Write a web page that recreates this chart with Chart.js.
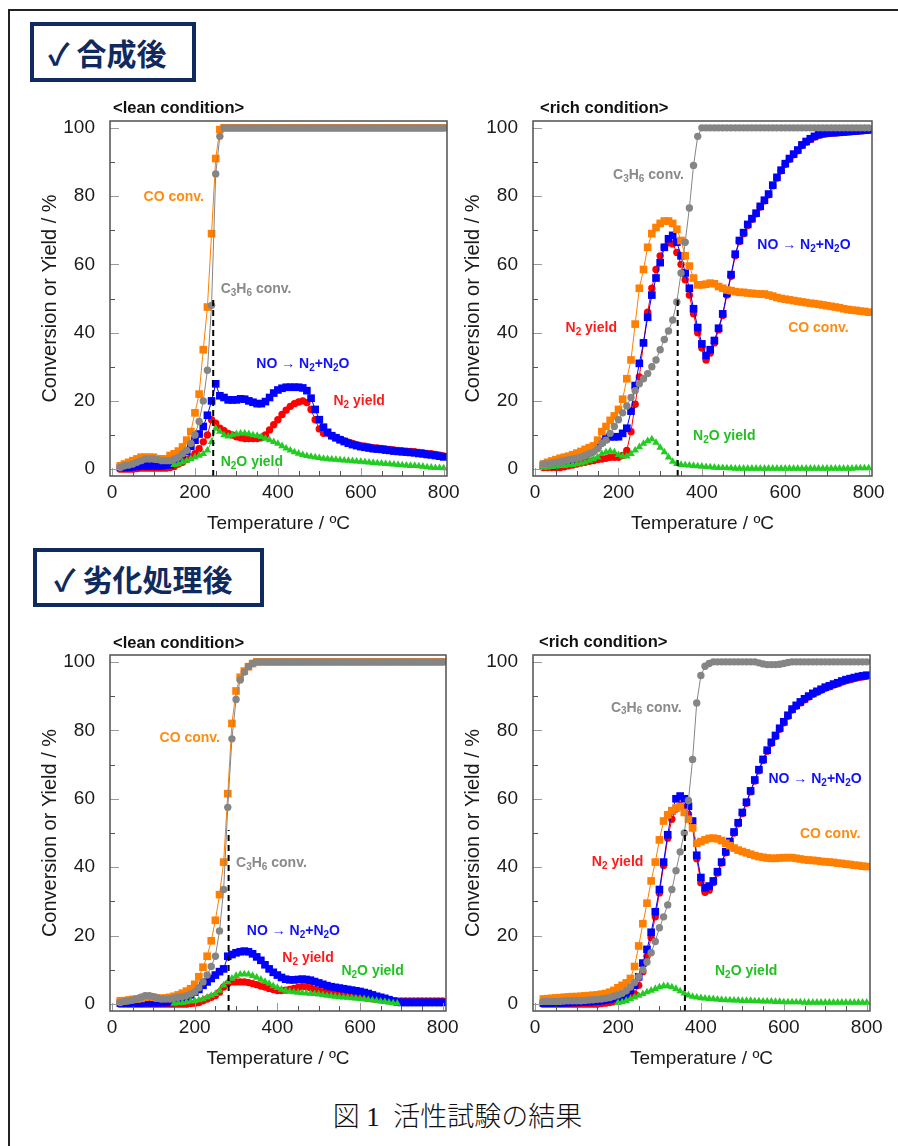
<!DOCTYPE html>
<html lang="ja">
<head>
<meta charset="utf-8">
<title>活性試験の結果</title>
<script src="https://cdn.jsdelivr.net/npm/chart.js@4.4.1/dist/chart.umd.min.js"></script>
<style>
  html, body { margin: 0; padding: 0; background: #fff; }
  body { width: 898px; height: 1146px; position: relative; overflow: hidden; font-family: "Liberation Sans", Arial, sans-serif; }
  .frame { position: absolute; left: 8px; top: 9px; width: 1000px; height: 1300px; border-top: 2px solid #222; border-left: 2px solid #222; }
  .head { position: absolute; box-sizing: border-box; border: 4px solid #0e2a5f; color: #0e2a5f; font-family: "Noto Sans CJK JP", "DejaVu Sans", sans-serif; font-weight: 700; font-size: 30px; display: flex; align-items: center; white-space: pre; }
  .cond { position: absolute; font-weight: bold; font-size: 16.5px; line-height: 20px; color: #111; white-space: pre; }
  .caption { position: absolute; left: 0; width: 915px; top: 1100px; text-align: center; font-family: "Liberation Serif", "Noto Sans CJK JP", serif; font-weight: 300; font-size: 27px; line-height: 34px; white-space: pre; color: #111; }
  canvas { position: absolute; }
</style>
</head>
<body>
<div class="frame"></div>
<div class="head" style="left:30px; top:22px; width:166px; height:60px; padding-left:14px;">✓ 合成後</div>
<div class="head" style="left:33px; top:548px; width:231px; height:59px; padding-left:17px;">✓ 劣化処理後</div>

<canvas id="freshLean"></canvas>
<canvas id="freshRich"></canvas>
<canvas id="agedLean"></canvas>
<canvas id="agedRich"></canvas>

<div class="cond" style="left:113px; top:97px;">&lt;lean condition&gt;</div>
<div class="cond" style="left:540px; top:97px;">&lt;rich condition&gt;</div>
<div class="cond" style="left:113px; top:632px;">&lt;lean condition&gt;</div>
<div class="cond" style="left:539px; top:631px;">&lt;rich condition&gt;</div>

<div class="caption">図 1  活性試験の結果</div>

<script>
// temperature points (ºC), shared by all panels
const temps = [
  20, 30, 40, 50, 60, 70, 80, 90, 100, 110,
  120, 130, 140, 150, 160, 170, 180, 190, 200, 210,
  220, 230, 240, 250, 260, 270, 280, 290, 300, 310,
  320, 330, 340, 350, 360, 370, 380, 390, 400, 410,
  420, 430, 440, 450, 460, 470, 480, 490, 500, 510,
  520, 530, 540, 550, 560, 570, 580, 590, 600, 610,
  620, 630, 640, 650, 660, 670, 680, 690, 700, 710,
  720, 730, 740, 750, 760, 770, 780, 790, 800
];
const xTicks = [0, 200, 400, 600, 800];
const yTicks = [0, 20, 40, 60, 80, 100];

// ---- 合成後 / lean ----
const freshLeanCO = [
  1, 1.5, 2, 2.5, 3, 3.5, 3.5, 3.5, 3.5, 3,
  3, 3, 4, 4.5, 5.3, 6.5, 8.5, 11, 16.5, 22,
  35, 47.5, 69, 91, 99.5, 100, 100, 100, 100, 100,
  100, 100, 100, 100, 100, 100, 100, 100, 100, 100,
  100, 100, 100, 100, 100, 100, 100, 100, 100, 100,
  100, 100, 100, 100, 100, 100, 100, 100, 100, 100,
  100, 100, 100, 100, 100, 100, 100, 100, 100, 100,
  100, 100, 100, 100, 100, 100, 100, 100, 100
];
const freshLeanC3H6 = [
  0.5, 1, 1.2, 1.5, 2, 2.5, 3, 3, 3, 2.8,
  2.5, 2.5, 2.5, 3, 3.5, 4.5, 5.5, 7.5, 10, 14,
  20, 29, 48, 86.5, 97.5, 100, 100, 100, 100, 100,
  100, 100, 100, 100, 100, 100, 100, 100, 100, 100,
  100, 100, 100, 100, 100, 100, 100, 100, 100, 100,
  100, 100, 100, 100, 100, 100, 100, 100, 100, 100,
  100, 100, 100, 100, 100, 100, 100, 100, 100, 100,
  100, 100, 100, 100, 100, 100, 100, 100, 100
];
const freshLeanNO = [
  0.5, 0.5, 0.5, 0.7, 0.8, 1, 1, 1, 1, 1,
  1, 1.2, 1.3, 1.8, 3, 4.3, 5.3, 6.7, 8.5, 10.3,
  12.5, 15.8, 20, 25, 21.5, 21, 20.3, 20.3, 20.3, 20.6,
  20.5, 20, 19.6, 19.2, 19.2, 19.8, 21, 22.3, 23.2, 23.7,
  24, 24, 24, 24, 23.8, 23, 20.8, 17.5, 14.5, 12.3,
  10.8, 9.8, 9.2, 8.6, 8.1, 7.6, 7.2, 6.9, 6.6, 6.4,
  6.2, 6, 5.9, 5.8, 5.6, 5.5, 5.3, 5.2, 5.1, 5,
  4.9, 4.8, 4.6, 4.5, 4.3, 4.2, 4, 3.8, 3.6
];
const freshLeanN2 = [
  0, 0, 0, 0, 0.2, 0.3, 0.3, 0.3, 0.3, 0.3,
  0.3, 0.3, 0.5, 0.8, 1.5, 2, 2.8, 3.5, 4.5, 6,
  8, 10, 14.5, 13.5, 12, 11.3, 10.5, 10, 9.5, 9.2,
  9, 9, 9, 9, 9.2, 10, 11.5, 13, 14.5, 16,
  17.3, 18.4, 19.2, 19.7, 20, 19.5, 17.5, 14.5, 11.8, 10.5,
  10.5, 9.8, 9.3, 8.8, 8.3, 7.9, 7.5, 7.2, 6.9, 6.7,
  6.5, 6.3, 6.2, 6.1, 5.9, 5.8, 5.6, 5.5, 5.4, 5.3,
  5.2, 5.1, 4.9, 4.8, 4.6, 4.5, 4.3, 4.1, 3.9
];
const freshLeanN2O = [
  null, null, null, null, null, null, null, null, null, null,
  null, null, null, 1.3, 1.5, 2, 2.5, 3, 3.5, 4,
  4.5, 5.5, 8, 12, 11, 10, 9.6, 10, 10.3, 10.5,
  10.5, 10.3, 10, 9.8, 9.5, 9, 8.5, 8, 7.5, 6.8,
  6.1, 5.5, 5, 4.6, 4.2, 3.9, 3.7, 3.5, 3.3, 3.1,
  3, 2.9, 2.8, 2.7, 2.6, 2.5, 2.4, 2.3, 2.2, 2.1,
  2, 1.9, 1.8, 1.7, 1.6, 1.5, 1.4, 1.3, 1.2, 1.1,
  1, 1, 0.9, 0.8, 0.6, 0.5, 0.4, 0.4, 0.3
];
const freshLeanT50 = [244, 50.4];

// ---- 合成後 / rich ----
const freshRichCO = [
  1.5, 2, 2.4, 2.8, 3.2, 3.5, 3.8, 4.2, 4.7, 5.2,
  5.8, 6.3, 6.8, 8.5, 11, 12.5, 14.3, 15.6, 17.5, 20.5,
  26.5, 32, 42.5, 53, 58.5, 65, 69, 70.8, 72, 72.7,
  72.7, 72, 70.3, 67, 62.5, 59.5, 56, 54, 54, 54.2,
  54.5, 54.3, 53.5, 53, 52.5, 52.3, 52, 51.8, 51.8, 51.6,
  51.5, 51.4, 51.3, 51.3, 51, 50.7, 50.3, 50, 49.8, 49.6,
  49.4, 49.2, 49, 48.8, 48.6, 48.5, 48.3, 48.1, 47.9, 47.7,
  47.5, 47.3, 47, 46.8, 46.6, 46.5, 46.3, 46.2, 46
];
const freshRichC3H6 = [
  1.5, 1.5, 1.8, 2, 2.2, 2.5, 2.8, 3, 3.2, 3.5,
  4, 4.5, 5, 6, 7.5, 8.5, 10.5, 12.5, 14.5, 16.5,
  18.5, 21, 23, 25, 26.5, 28, 30, 32, 35, 38,
  40.5, 43.7, 49, 57.5, 66.5, 76.5, 89, 97.5, 100, 100,
  100, 100, 100, 100, 100, 100, 100, 100, 100, 100,
  100, 100, 100, 100, 100, 100, 100, 100, 100, 100,
  100, 100, 100, 100, 100, 100, 100, 100, 100, 100,
  100, 100, 100, 100, 100, 100, 100, 100, 100
];
const freshRichNO = [
  1, 1, 1, 1.2, 1.5, 2, 2.5, 3, 3.5, 4,
  4.5, 5, 6, 7, 8, 9, 9.5, 9.5, 9.5, 10.5,
  12, 17, 24.5, 31, 37, 44.5, 51, 56, 60.5, 65,
  67.5, 68.5, 66.5, 62.5, 57.5, 53, 47, 41.5, 36.7, 33.3,
  35, 37.7, 41.3, 45.5, 51.5, 57, 63, 67, 69.3, 71.7,
  73.4, 75, 77, 78.8, 80.6, 83.2, 85.5, 87.6, 89.5, 91,
  92.3, 93.5, 95, 96, 96.8, 97.5, 98, 98.3, 98.5, 98.6,
  98.6, 98.7, 98.8, 98.9, 99, 99.1, 99.2, 99.3, 99.4
];
const freshRichN2 = [
  0.5, 0.5, 0.5, 0.5, 0.5, 0.7, 1, 1.2, 1.5, 1.8,
  2, 2.3, 2.5, 2.8, 3, 3.2, 3.5, 3.5, 3.5, 4,
  5.5, 11, 19, 27, 37, 46, 53, 58.5, 62.5, 65,
  66.3, 66, 63.5, 60, 55.5, 51, 45.5, 40, 35.5, 32,
  34, 37, 40.8, 45, 51, 56.5, 62.5, 66.7, 69, 71.4,
  73.2, 74.8, 76.8, 78.6, 80.4, 83, 85.3, 87.4, 89.3, 90.8,
  92.1, 93.3, 94.8, 95.8, 96.6, 97.3, 97.8, 98.1, 98.3, 98.4,
  98.5, 98.6, 98.7, 98.8, 98.9, 99, 99.1, 99.2, 99.3
];
const freshRichN2O = [
  0.5, 0.5, 0.7, 0.8, 1, 1, 1.2, 1.3, 1.5, 1.7,
  2, 2.5, 3, 3.5, 4.5, 5, 5.3, 5, 4.2, 3.8,
  3.8, 4.5, 5.5, 6.5, 7.5, 8.3, 8.8, 7.8, 6.3, 5,
  3.5, 2.2, 1.6, 1.3, 1.2, 1.1, 1, 0.9, 0.8, 0.7,
  0.6, 0.5, 0.4, 0.4, 0.3, 0.3, 0.2, 0.2, 0.2, 0.2,
  0.2, 0.2, 0.2, 0.2, 0.2, 0.2, 0.2, 0.2, 0.2, 0.2,
  0.2, 0.2, 0.2, 0.2, 0.2, 0.2, 0.2, 0.2, 0.2, 0.2,
  0.2, 0.2, 0.2, 0.2, 0.2, 0.3, 0.3, 0.3, 0.3
];
const freshRichT50 = [342, 50.3];

// ---- 劣化処理後 / lean ----
const agedLeanCO = [
  1, 1, 1.2, 1.4, 1.5, 1.7, 2, 2.2, 2, 1.8,
  1.7, 1.8, 2, 2.3, 2.7, 3.2, 3.8, 4.5, 5.8, 8,
  10.8, 14, 18.5, 24.5, 32, 41.5, 61.5, 82, 91.5, 95.5,
  97.3, 98.6, 99.5, 100, 100, 100, 100, 100, 100, 100,
  100, 100, 100, 100, 100, 100, 100, 100, 100, 100,
  100, 100, 100, 100, 100, 100, 100, 100, 100, 100,
  100, 100, 100, 100, 100, 100, 100, 100, 100, 100,
  100, 100, 100, 100, 100, 100, 100, 100, 100
];
const agedLeanC3H6 = [
  0.5, 0.8, 1, 1.2, 1.5, 2, 2.5, 2.5, 2.2, 1.8,
  1.5, 1.5, 1.5, 1.8, 2, 2.2, 2.5, 3, 3.5, 4.8,
  6.5, 8.5, 11, 14, 21.4, 33.5, 57.5, 77.5, 89, 94.7,
  97, 98.6, 99.5, 100, 100, 100, 100, 100, 100, 100,
  100, 100, 100, 100, 100, 100, 100, 100, 100, 100,
  100, 100, 100, 100, 100, 100, 100, 100, 100, 100,
  100, 100, 100, 100, 100, 100, 100, 100, 100, 100,
  100, 100, 100, 100, 100, 100, 100, 100, 100
];
const agedLeanNO = [
  0.3, 0.3, 0.3, 0.3, 0.3, 0.3, 0.4, 0.4, 0.4, 0.4,
  0.4, 0.5, 0.5, 0.7, 1, 1.5, 2, 2.7, 3.5, 4.3,
  5.5, 6.5, 7.5, 8.5, 9.5, 10.3, 14, 14.5, 15, 15.3,
  15.5, 15.3, 14.7, 13.8, 12.8, 11.5, 10.3, 9.3, 8.5, 7.8,
  7.3, 7.1, 7.1, 7.2, 7.3, 7.2, 7, 6.6, 6.2, 5.8,
  5.4, 5.1, 4.9, 4.7, 4.5, 4.3, 4.1, 3.9, 3.7, 3.4,
  3.1, 2.7, 2.3, 2, 1.7, 1.3, 0.9, 0.6, 0.5, 0.5,
  0.5, 0.5, 0.5, 0.5, 0.5, 0.5, 0.5, 0.5, 0.5
];
const agedLeanN2 = [
  0, 0, 0, 0, 0, 0, 0, 0, 0, 0,
  0, 0, 0, 0, 0, 0, 0, 0.2, 0.3, 0.5,
  1, 1.5, 2, 2.5, 3.5, 5, 6, 6.5, 6.5, 6.5,
  6.5, 6.3, 6, 5.7, 5.3, 5, 4.6, 4.3, 4, 4,
  4.1, 4.3, 4.6, 4.9, 5.1, 5.1, 4.8, 4.3, 3.9, 3.6,
  3.4, 3.2, 3, 2.9, 2.7, 2.5, 2.4, 2.2, 2, 1.9,
  1.7, 1.6, 1.4, 1.3, 1.2, 1.1, 1, 0.9, 0.9, 0.9,
  0.9, 0.9, 0.9, 0.9, 0.9, 0.9, 0.9, 0.9, 0.9
];
const agedLeanN2O = [
  null, null, null, null, null, null, null, null, null, null,
  null, null, null, 0.2, 0.3, 0.4, 0.6, 0.8, 1, 1.2,
  1.5, 2, 2.5, 3, 4, 5.5, 6.5, 7.5, 8.3, 8.7,
  8.8, 8.7, 8.3, 7.8, 7.2, 6.6, 6, 5.3, 4.8, 4.3,
  4, 3.7, 3.5, 3.4, 3.3, 3.2, 3.1, 3, 2.9, 2.7,
  2.5, 2.4, 2.2, 2.1, 2, 1.9, 1.8, 1.7, 1.6, 1.5,
  1.3, 1.2, 1, 0.8, 0.7, 0.5, 0.3, 0.2, null, null,
  null, null, null, null, null, null, null, null, null
];
const agedLeanT50 = [282, 50.9];

// ---- 劣化処理後 / rich ----
const agedRichCO = [
  1.5, 1.6, 1.7, 1.8, 1.9, 2, 2.1, 2.2, 2.2, 2.3,
  2.4, 2.5, 2.6, 2.7, 2.9, 3.1, 3.5, 4, 4.8, 5.5,
  6.2, 7.5, 11, 17, 23.5, 29.5, 36, 41.5, 48, 53.5,
  55.3, 56.5, 57.3, 57.7, 56, 54, 51.5, 47, 47.5, 48,
  48.4, 48.5, 48.3, 47.8, 47, 46.3, 45.6, 45, 44.6, 44.2,
  43.8, 43.4, 43.1, 42.9, 42.7, 42.6, 42.6, 42.7, 42.8, 42.8,
  42.8, 42.6, 42.4, 42.2, 42.1, 42, 41.9, 41.7, 41.6, 41.5,
  41.4, 41.2, 41.1, 40.9, 40.8, 40.6, 40.5, 40.3, 40.2
];
const agedRichC3H6 = [
  0.8, 0.8, 0.8, 0.8, 0.8, 0.9, 1, 1, 1, 1,
  1.1, 1.2, 1.3, 1.4, 1.5, 1.7, 1.9, 2.3, 2.7, 3.2,
  3.9, 5, 6.3, 8, 10, 12.3, 15, 18.3, 22.3, 25.5,
  29, 33.5, 39, 44.5, 50, 59.5, 71.5, 88, 96, 98.7,
  99.5, 100, 100, 100, 100, 100, 100, 100, 100, 100,
  100, 100, 99.7, 99.4, 99.2, 99.2, 99.2, 99.3, 99.5, 99.8,
  100, 100, 100, 100, 100, 100, 100, 100, 100, 100,
  100, 100, 100, 100, 100, 100, 100, 100, 100
];
const agedRichNO = [
  0.3, 0.3, 0.3, 0.3, 0.3, 0.4, 0.4, 0.5, 0.5, 0.6,
  0.6, 0.7, 0.8, 0.9, 1, 1.2, 1.4, 1.7, 2, 2.4,
  3, 4, 5.5, 8, 12, 16, 21, 27, 33.5, 41.5,
  49.5, 56.5, 60, 60.8, 60, 57.8, 53.5, 43.5, 37, 34,
  34.5, 36, 38.7, 41.5, 44.5, 47.5, 50.3, 53, 56, 59,
  62.3, 65.5, 68.5, 71.5, 74.2, 76.5, 78.5, 80.6, 82.5, 84.4,
  86.2, 87.3, 88.3, 89.2, 90, 90.8, 91.4, 92, 92.6, 93,
  93.5, 93.9, 94.4, 94.8, 95.1, 95.4, 95.7, 95.9, 96.1
];
const agedRichN2 = [
  0, 0, 0, 0, 0, 0, 0, 0, 0, 0,
  0, 0, 0, 0, 0.2, 0.3, 0.5, 0.7, 1, 1.3,
  1.7, 2.3, 3, 5.5, 9.5, 14, 19.5, 25.5, 32.5, 40.5,
  48.5, 54, 57, 58, 57.5, 55.5, 51.5, 42.5, 35.5, 32.7,
  33.3, 35.5, 38.3, 41.2, 44.2, 47.2, 50, 52.7, 55.7, 58.7,
  62, 65.2, 68.2, 71.2, 73.9, 76.2, 78.2, 80.3, 82.2, 84.1,
  85.9, 87, 88, 88.9, 89.7, 90.5, 91.1, 91.7, 92.3, 92.7,
  93.2, 93.6, 94.1, 94.5, 94.8, 95.1, 95.4, 95.6, 95.8
];
const agedRichN2O = [
  null, null, null, null, null, null, null, null, null, null,
  null, null, null, null, null, null, null, null, 0.4, 0.6,
  1, 1.5, 2, 2.5, 3, 3.5, 4, 4.5, 5, 5.3,
  5.3, 5, 4.5, 3.8, 3.2, 2.6, 2.2, 2, 1.8, 1.7,
  1.6, 1.5, 1.4, 1.3, 1.2, 1.2, 1.1, 1.1, 1, 1,
  1, 0.9, 0.9, 0.8, 0.8, 0.8, 0.7, 0.7, 0.6, 0.6,
  0.6, 0.6, 0.6, 0.5, 0.5, 0.5, 0.5, 0.5, 0.5, 0.5,
  0.5, 0.5, 0.5, 0.5, 0.5, 0.5, 0.5, 0.5, 0.5
];
const agedRichT50 = [361.5, 50.9];

// series look (drawn top first)
const styles = {
  C3H6: { color: "#858585", text: "#8a8a8a", shape: "circle", r: 3.7 },
  CO: { color: "#ff7f00", text: "#ff8c10", shape: "rect", r: 5.4 },
  N2O: { color: "#22cc22", text: "#22c022", shape: "triangle", r: 4.4 },
  NO: { color: "#0000ff", text: "#1010ff", shape: "rect", r: 5.4 },
  N2: { color: "#ff0000", text: "#ff1a1a", shape: "circle", r: 3.7 },
};

// label positions in data units (left edge, middle)
const freshLeanLabels = [
  { s: "CO", x: 76, y: 79.7, t: "CO conv." },
  { s: "C3H6", x: 262, y: 52.8, t: "C_3H_6 conv." },
  { s: "NO", x: 348, y: 30.7, t: "NO → N_2+N_2O" },
  { s: "N2", x: 534, y: 20, t: "N_2 yield" },
  { s: "N2O", x: 262, y: 2, t: "N_2O yield" },
];
const freshRichLabels = [
  { s: "C3H6", x: 187, y: 86, t: "C_3H_6 conv." },
  { s: "NO", x: 533, y: 65.7, t: "NO → N_2+N_2O" },
  { s: "CO", x: 607, y: 41.4, t: "CO conv." },
  { s: "N2", x: 73, y: 41.2, t: "N_2 yield" },
  { s: "N2O", x: 379, y: 9.7, t: "N_2O yield" },
];
const agedLeanLabels = [
  { s: "CO", x: 115, y: 77.6, t: "CO conv." },
  { s: "C3H6", x: 300, y: 41.1, t: "C_3H_6 conv." },
  { s: "NO", x: 326, y: 21.4, t: "NO → N_2+N_2O" },
  { s: "N2", x: 412, y: 13.4, t: "N_2 yield" },
  { s: "N2O", x: 555, y: 9.5, t: "N_2O yield" },
];
const agedRichLabels = [
  { s: "C3H6", x: 183, y: 86.6, t: "C_3H_6 conv." },
  { s: "NO", x: 563, y: 65.7, t: "NO → N_2+N_2O" },
  { s: "CO", x: 639, y: 49.6, t: "CO conv." },
  { s: "N2", x: 137, y: 41.4, t: "N_2 yield" },
  { s: "N2O", x: 434, y: 9.7, t: "N_2O yield" },
];

const X_MIN = -5, X_MAX = 808, Y_MIN = -2, Y_MAX = 102;
const AXIS_W = 80, AXIS_H = 62, PAD_T = 30, PAD_R = 32;

const panels = [
  { id: "freshLean", box: [110, 121, 337, 355], CO: freshLeanCO, C3H6: freshLeanC3H6, NO: freshLeanNO, N2: freshLeanN2, N2O: freshLeanN2O, t50: freshLeanT50, labels: freshLeanLabels },
  { id: "freshRich", box: [533, 121, 339, 355], CO: freshRichCO, C3H6: freshRichC3H6, NO: freshRichNO, N2: freshRichN2, N2O: freshRichN2O, t50: freshRichT50, labels: freshRichLabels },
  { id: "agedLean", box: [110, 655, 336, 356], CO: agedLeanCO, C3H6: agedLeanC3H6, NO: agedLeanNO, N2: agedLeanN2, N2O: agedLeanN2O, t50: agedLeanT50, labels: agedLeanLabels },
  { id: "agedRich", box: [533, 655, 337, 356], CO: agedRichCO, C3H6: agedRichC3H6, NO: agedRichNO, N2: agedRichN2, N2O: agedRichN2O, t50: agedRichT50, labels: agedRichLabels },
];

Chart.defaults.font.family = "'Liberation Sans', Arial, sans-serif";
Chart.defaults.color = "#1a1a1a";

// split "N_2O" into normal / subscript parts
function splitSub(text) {
  const parts = [];
  let buf = "";
  for (let i = 0; i < text.length; i++) {
    if (text[i] === "_") {
      if (buf) parts.push({ s: buf, sub: false });
      buf = "";
      parts.push({ s: text[i + 1], sub: true });
      i++;
    } else buf += text[i];
  }
  if (buf) parts.push({ s: buf, sub: false });
  return parts;
}

// inward tick marks and plot frame
const framePlugin = {
  id: "frame",
  afterDatasetsDraw(chart) {
    const { ctx, chartArea: a, scales: { x, y } } = chart;
    ctx.save();
    ctx.lineWidth = 1;
    for (let v = 0; v <= 100; v += 10) {
      const py = Math.round(y.getPixelForValue(v)) + 0.5;
      const major = v % 20 === 0;
      ctx.strokeStyle = major ? "#9a9a9a" : "#555";
      ctx.beginPath();
      ctx.moveTo(a.left, py);
      ctx.lineTo(a.left + (major ? 9 : 5), py);
      ctx.stroke();
    }
    for (let v = 0; v <= 800; v += 50) {
      const px = Math.round(x.getPixelForValue(v)) + 0.5;
      const major = v % 200 === 0;
      ctx.strokeStyle = major ? "#9a9a9a" : "#555";
      ctx.beginPath();
      ctx.moveTo(px, a.bottom);
      ctx.lineTo(px, a.bottom - (major ? 8 : 5));
      ctx.stroke();
    }
    ctx.strokeStyle = "#505050";
    ctx.lineWidth = 1.5;
    ctx.strokeRect(a.left, a.top, a.right - a.left, a.bottom - a.top);
    ctx.restore();
  }
};

// coloured series names drawn next to the curves
const labelPlugin = {
  id: "seriesLabels",
  afterDatasetsDraw(chart, args, opts) {
    const { ctx, scales: { x, y } } = chart;
    ctx.save();
    ctx.textBaseline = "middle";
    ctx.textAlign = "left";
    for (const lb of opts.items || []) {
      let px = x.getPixelForValue(lb.x);
      const py = y.getPixelForValue(lb.y);
      ctx.fillStyle = styles[lb.s].text;
      for (const part of splitSub(lb.t)) {
        ctx.font = part.sub ? "bold 10px 'Liberation Sans', Arial" : "bold 14px 'Liberation Sans', Arial";
        ctx.fillText(part.s, px, py + (part.sub ? 4 : 0));
        px += ctx.measureText(part.s).width;
      }
    }
    ctx.restore();
  }
};

function series(key, vals) {
  const st = styles[key];
  return {
    label: key,
    data: temps.map((t, i) => ({ x: t, y: vals[i] })),
    borderColor: st.color,
    backgroundColor: st.color,
    borderWidth: 1,
    pointStyle: st.shape,
    pointRadius: st.r,
    pointBorderWidth: 0,
    pointBackgroundColor: st.color,
    tension: 0,
    spanGaps: false,
  };
}

for (const p of panels) {
  const [L, T, W, H] = p.box;
  const cv = document.getElementById(p.id);
  cv.width = AXIS_W + W + PAD_R;
  cv.height = PAD_T + H + AXIS_H;
  cv.style.left = (L - AXIS_W) + "px";
  cv.style.top = (T - PAD_T) + "px";

  new Chart(cv.getContext("2d"), {
    type: "line",
    data: {
      datasets: [
        {
          label: "T50",
          data: [{ x: p.t50[0], y: Y_MIN }, { x: p.t50[0], y: p.t50[1] }],
          borderColor: "#000",
          borderWidth: 2,
          borderDash: [6, 4],
          pointRadius: 0,
        },
        series("C3H6", p.C3H6),
        series("CO", p.CO),
        series("N2O", p.N2O),
        series("NO", p.NO),
        series("N2", p.N2),
      ],
    },
    options: {
      responsive: false,
      animation: false,
      devicePixelRatio: 1,
      layout: { padding: { top: PAD_T, right: PAD_R, left: 0, bottom: 0 } },
      plugins: {
        legend: { display: false },
        tooltip: { enabled: false },
        seriesLabels: { items: p.labels },
      },
      scales: {
        x: {
          type: "linear",
          min: X_MIN,
          max: X_MAX,
          afterBuildTicks: (s) => { s.ticks = xTicks.map((v) => ({ value: v })); },
          afterFit: (s) => { s.height = AXIS_H; },
          grid: { display: false, drawTicks: false },
          border: { display: false },
          ticks: { padding: 5, font: { size: 19 }, color: "#1a1a1a", maxRotation: 0, autoSkip: false },
          title: { display: true, text: "Temperature / ºC", font: { size: 19 }, color: "#1a1a1a", padding: { top: 0, bottom: 3 } },
        },
        y: {
          type: "linear",
          min: Y_MIN,
          max: Y_MAX,
          afterBuildTicks: (s) => { s.ticks = yTicks.map((v) => ({ value: v })); },
          afterFit: (s) => { s.width = AXIS_W; },
          grid: { display: false, drawTicks: false },
          border: { display: false },
          ticks: { padding: 15, font: { size: 19 }, color: "#1a1a1a", autoSkip: false },
          title: { display: true, text: "Conversion or Yield / %", font: { size: 20 }, color: "#1a1a1a", padding: { top: 8, bottom: 0 } },
        },
      },
    },
    plugins: [framePlugin, labelPlugin],
  });
}
</script>
</body>
</html>
